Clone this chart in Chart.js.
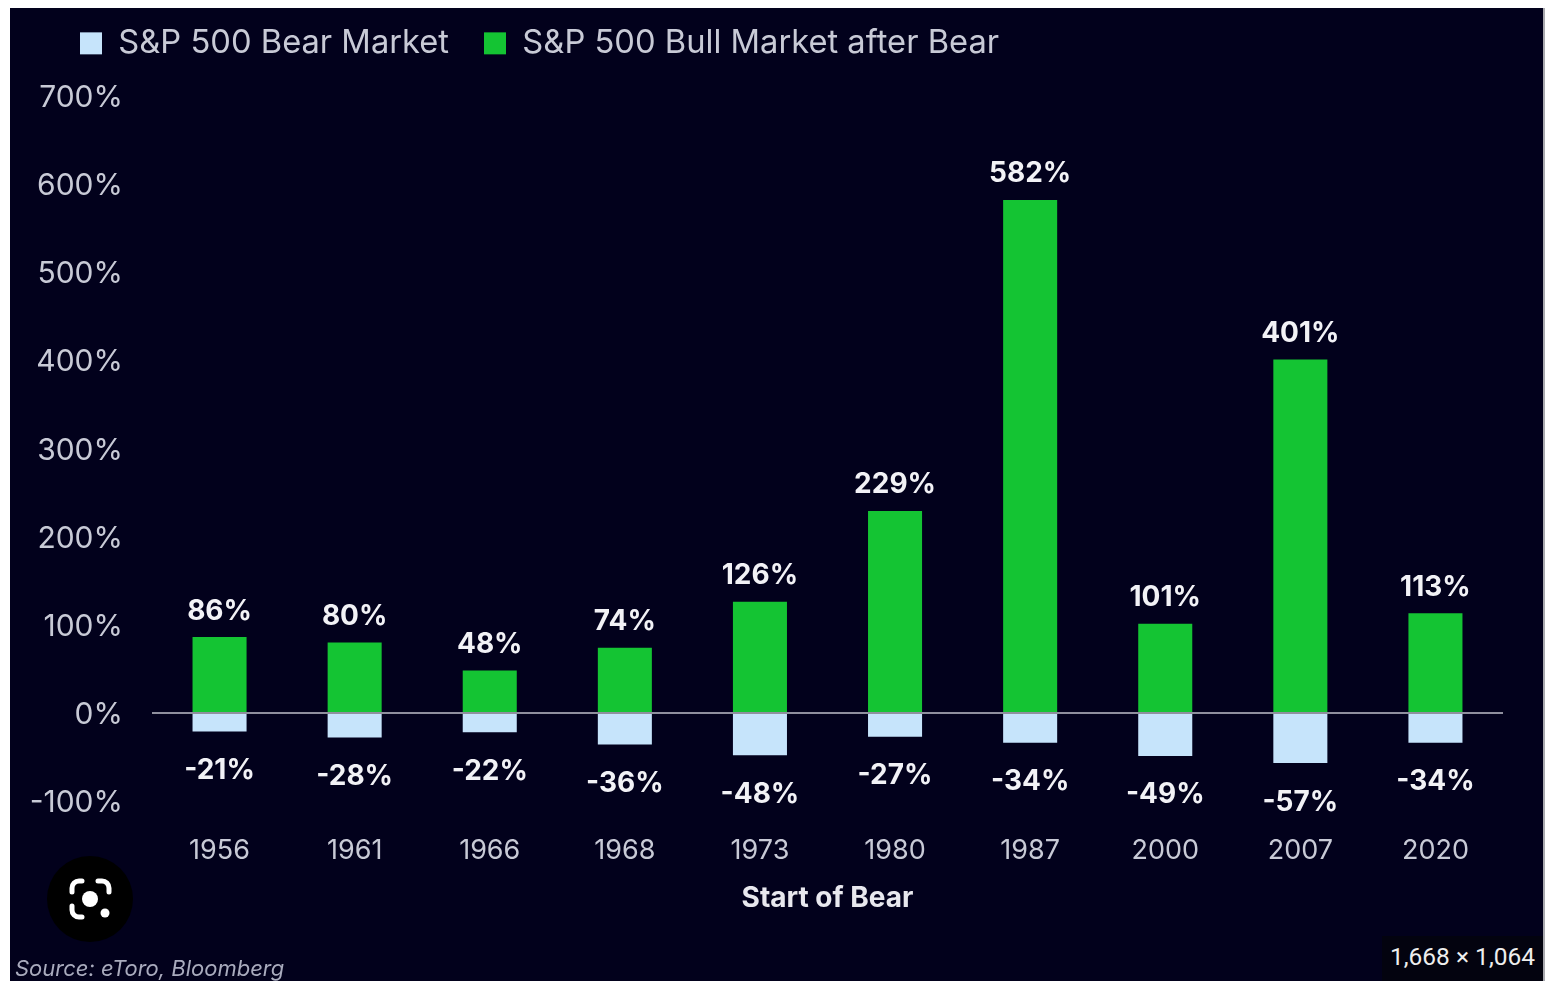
<!DOCTYPE html>
<html><head><meta charset="utf-8">
<style>
html,body{margin:0;padding:0;background:#fff;width:1556px;height:981px;overflow:hidden}
#panel{position:absolute;left:10px;top:8px;width:1533px;height:973px;background:#02011c;border-right:2px solid #a9a9ae;box-sizing:content-box}
#wrap{position:absolute;left:0;top:0;width:1533px;height:973px}
#source{position:absolute;left:5px;top:947px;font:italic 22px Inter,sans-serif;color:#a9abbd;white-space:nowrap}
#badge{position:absolute;left:1372px;top:928px;width:161px;height:45px;background:#03030f;color:#eee;font:24.5px Roboto,sans-serif;line-height:42px;text-align:center;white-space:nowrap}
#lens{position:absolute;left:37px;top:848px}
</style></head><body>
<div id="panel">
<div id="wrap"><canvas id="c" width="1533" height="973"></canvas></div>
<svg id="lens" width="86" height="86" viewBox="0 0 86 86">
<circle cx="43" cy="43" r="43" fill="#000"/>
<g fill="none" stroke="#fff" stroke-width="5" stroke-linecap="round">
<path d="M25 36 v-4 a7 7 0 0 1 7 -7 h3"/><path d="M51 25 h4 a7 7 0 0 1 7 7 v4"/><path d="M25 50 v4 a7 7 0 0 0 7 7 h3"/>
</g>
<circle cx="43" cy="43" r="8" fill="#fff"/><circle cx="58" cy="57" r="4.5" fill="#fff"/>
</svg>
<div id="source">Source: eToro, Bloomberg</div>
<div id="badge">1,668 × 1,064</div>
</div>
<script src="https://cdn.jsdelivr.net/npm/chart.js@4"></script>
<script>
const categories = ['1956','1961','1966','1968','1973','1980','1987','2000','2007','2020'];
const bearValues = [-21,-28,-22,-36,-48,-27,-34,-49,-57,-34];
const bullValues = [86,80,48,74,126,229,582,101,401,113];
const FONT = 'Inter, sans-serif';
const TEXT = '#c8cad6';

const valueLabels = {
  id: 'valueLabels',
  afterDatasetsDraw(chart) {
    const ctx = chart.ctx;
    ctx.save();
    ctx.font = '700 28px ' + FONT;
    ctx.fillStyle = '#f2f2f6';
    ctx.textAlign = 'center';
    ctx.textBaseline = 'middle';
    chart.data.datasets.forEach((ds, i) => {
      chart.getDatasetMeta(i).data.forEach((bar, j) => {
        const v = ds.data[j];
        const off = v < 0 ? 39 : -26;
        ctx.fillText(v + '%', bar.x, bar.y + off);
      });
    });
    ctx.restore();
  }
};
const legendShift = {
  id: 'legendShift',
  afterLayout(chart) { chart.legend.top = -16; chart.legend.left = 35; }
};

new Chart(document.getElementById('c'), {
  type: 'bar',
  data: {
    labels: categories,
    datasets: [
      { label: 'S&P 500 Bear Market', data: bearValues, backgroundColor: '#c6e4fb', barPercentage: 0.4, categoryPercentage: 1 },
      { label: 'S&P 500 Bull Market after Bear', data: bullValues, backgroundColor: '#14c433', barPercentage: 0.4, categoryPercentage: 1 }
    ]
  },
  options: {
    responsive: false,
    animation: false,
    layout: { padding: { left: 15, right: 40, top: 16, bottom: 66 } },
    plugins: {
      tooltip: { enabled: false },
      legend: {
        position: 'top', align: 'start', maxHeight: 72,
        labels: { color: TEXT, font: { family: FONT, size: 32.7 }, boxWidth: 22, boxHeight: 22, padding: 35 }
      }
    },
    scales: {
      x: {
        stacked: true,
        grid: { display: false },
        border: { display: false },
        ticks: { color: TEXT, font: { family: FONT, size: 27 }, maxRotation: 0, padding: 26 },
        title: { display: true, text: 'Start of Bear', color: '#e8e8ee', font: { family: FONT, size: 28, weight: '700' }, padding: { top: -12, bottom: 0 } }
      },
      y: {
        stacked: true,
        min: -100, max: 700,
        afterFit(s) { s.width = 127; },
        grid: {
          drawTicks: false,
          lineWidth: c => c.tick && c.tick.value === 0 ? 2 : 0,
          color: c => c.tick && c.tick.value === 0 ? '#8f8f9e' : 'transparent'
        },
        border: { display: false },
        ticks: { color: TEXT, font: { family: FONT, size: 30 }, stepSize: 100, padding: 29, labelOffset: 2, callback: v => v + '%' }
      }
    }
  },
  plugins: [valueLabels, legendShift]
});
</script>
</body></html>
